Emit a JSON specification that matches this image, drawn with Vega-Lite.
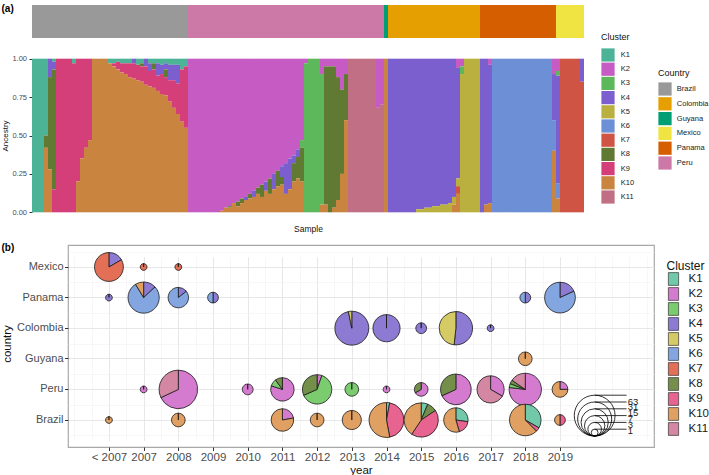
{
  "$schema": "https://vega.github.io/schema/vega-lite/v6.json",
  "padding": {"left": 0, "top": 3, "right": 0, "bottom": 0},
  "config": {
    "font": "Liberation Sans",
    "view": {"stroke": null},
    "axis": {"labelColor": "#4d4d4d", "titleColor": "#111111", "titleFontWeight": "normal", "domain": false, "grid": false, "tickColor": "#333333", "minExtent": 0},
    "legend": {"titleFontWeight": "normal", "labelColor": "#1a1a1a", "titleColor": "#111111", "padding": 0}
  },
  "datasets": {
    "clusters": [
      {"cluster": "K1", "k": 1}, {"cluster": "K2", "k": 2}, {"cluster": "K3", "k": 3}, {"cluster": "K4", "k": 4},
      {"cluster": "K5", "k": 5}, {"cluster": "K6", "k": 6}, {"cluster": "K7", "k": 7}, {"cluster": "K8", "k": 8},
      {"cluster": "K9", "k": 9}, {"cluster": "K10", "k": 10}, {"cluster": "K11", "k": 11}
    ],
    "sizes": [{"n": 1}, {"n": 3}, {"n": 7}, {"n": 15}, {"n": 31}, {"n": 63}],
    "anc": [
      {"s":0,"country":"Brazil","K1":1},
      {"s":1,"country":"Brazil","K1":1},
      {"s":2,"country":"Brazil","K1":1},
      {"s":3,"country":"Brazil","K1":0.5,"K8":0.08,"K10":0.42},
      {"s":4,"country":"Brazil","K4":0.12,"K8":0.6,"K10":0.28},
      {"s":5,"country":"Brazil","K1":0.02,"K4":0.05,"K8":0.78,"K9":0.15},
      {"s":6,"country":"Brazil","K9":1},
      {"s":7,"country":"Brazil","K9":1},
      {"s":8,"country":"Brazil","K9":1},
      {"s":9,"country":"Brazil","K9":1},
      {"s":10,"country":"Brazil","K1":0.03,"K9":0.97},
      {"s":11,"country":"Brazil","K9":0.8,"K10":0.2},
      {"s":12,"country":"Brazil","K9":0.65,"K10":0.35},
      {"s":13,"country":"Brazil","K9":0.58,"K10":0.42},
      {"s":14,"country":"Brazil","K9":0.53,"K10":0.47},
      {"s":15,"country":"Brazil","K10":1},
      {"s":16,"country":"Brazil","K10":1},
      {"s":17,"country":"Brazil","K10":1},
      {"s":18,"country":"Brazil","K10":1},
      {"s":19,"country":"Brazil","K1":0.03,"K10":0.97},
      {"s":20,"country":"Brazil","K1":0.03,"K9":0.02,"K10":0.95},
      {"s":21,"country":"Brazil","K1":0.02,"K9":0.05,"K10":0.93},
      {"s":22,"country":"Brazil","K1":0.03,"K9":0.06,"K10":0.91},
      {"s":23,"country":"Brazil","K1":0.03,"K9":0.07,"K10":0.9},
      {"s":24,"country":"Brazil","K1":0.03,"K9":0.09,"K10":0.88},
      {"s":25,"country":"Brazil","K4":0.03,"K9":0.1,"K10":0.87},
      {"s":26,"country":"Brazil","K1":0.04,"K9":0.1,"K10":0.86},
      {"s":27,"country":"Brazil","K1":0.03,"K8":0.02,"K9":0.1,"K10":0.85},
      {"s":28,"country":"Brazil","K4":0.05,"K9":0.12,"K10":0.83},
      {"s":29,"country":"Brazil","K1":0.03,"K4":0.05,"K9":0.1,"K10":0.82},
      {"s":30,"country":"Brazil","K1":0.03,"K8":0.04,"K9":0.12,"K10":0.81},
      {"s":31,"country":"Brazil","K1":0.03,"K4":0.08,"K9":0.1,"K10":0.79},
      {"s":32,"country":"Brazil","K1":0.04,"K4":0.06,"K9":0.13,"K10":0.77},
      {"s":33,"country":"Brazil","K1":0.03,"K4":0.04,"K8":0.05,"K9":0.12,"K10":0.76},
      {"s":34,"country":"Brazil","K1":0.04,"K4":0.1,"K9":0.14,"K10":0.72},
      {"s":35,"country":"Brazil","K1":0.04,"K4":0.1,"K9":0.18,"K10":0.68},
      {"s":36,"country":"Brazil","K1":0.04,"K4":0.12,"K9":0.2,"K10":0.64},
      {"s":37,"country":"Brazil","K1":0.07,"K9":0.34,"K10":0.59},
      {"s":38,"country":"Brazil","K1":0.05,"K9":0.4,"K10":0.55},
      {"s":39,"country":"Peru","K2":1},
      {"s":40,"country":"Peru","K2":1},
      {"s":41,"country":"Peru","K2":1},
      {"s":42,"country":"Peru","K2":1},
      {"s":43,"country":"Peru","K2":1},
      {"s":44,"country":"Peru","K2":1},
      {"s":45,"country":"Peru","K2":1},
      {"s":46,"country":"Peru","K2":1},
      {"s":47,"country":"Peru","K2":0.99,"K10":0.01},
      {"s":48,"country":"Peru","K2":0.97,"K10":0.03},
      {"s":49,"country":"Peru","K2":0.96,"K8":0.01,"K10":0.03},
      {"s":50,"country":"Peru","K2":0.94,"K10":0.06},
      {"s":51,"country":"Peru","K2":0.93,"K8":0.03,"K10":0.04},
      {"s":52,"country":"Peru","K2":0.91,"K8":0.03,"K10":0.06},
      {"s":53,"country":"Peru","K2":0.9,"K4":0.02,"K10":0.08},
      {"s":54,"country":"Peru","K2":0.88,"K8":0.03,"K10":0.09},
      {"s":55,"country":"Peru","K2":0.86,"K4":0.04,"K10":0.1},
      {"s":56,"country":"Peru","K2":0.84,"K8":0.04,"K10":0.12},
      {"s":57,"country":"Peru","K2":0.82,"K8":0.08,"K10":0.1},
      {"s":58,"country":"Peru","K2":0.8,"K4":0.06,"K10":0.14},
      {"s":59,"country":"Peru","K2":0.78,"K8":0.1,"K10":0.12},
      {"s":60,"country":"Peru","K2":0.75,"K4":0.1,"K10":0.15},
      {"s":61,"country":"Peru","K2":0.73,"K8":0.1,"K10":0.17},
      {"s":62,"country":"Peru","K2":0.7,"K4":0.07,"K8":0.05,"K10":0.18},
      {"s":63,"country":"Peru","K2":0.68,"K4":0.2,"K10":0.12},
      {"s":64,"country":"Peru","K2":0.65,"K4":0.2,"K10":0.15},
      {"s":65,"country":"Peru","K2":0.63,"K4":0.05,"K8":0.12,"K10":0.2},
      {"s":66,"country":"Peru","K2":0.59,"K4":0.05,"K8":0.14,"K10":0.22},
      {"s":67,"country":"Peru","K2":0.53,"K3":0.05,"K8":0.22,"K10":0.2},
      {"s":68,"country":"Peru","K2":0.03,"K3":0.97},
      {"s":69,"country":"Peru","K3":1},
      {"s":70,"country":"Peru","K3":1},
      {"s":71,"country":"Peru","K3":1},
      {"s":72,"country":"Peru","K2":0.1,"K3":0.85,"K10":0.05},
      {"s":73,"country":"Peru","K2":0.05,"K8":0.9,"K10":0.05},
      {"s":74,"country":"Peru","K2":0.05,"K8":0.95},
      {"s":75,"country":"Peru","K2":0.05,"K8":0.92,"K10":0.03},
      {"s":76,"country":"Peru","K2":0.12,"K8":0.8,"K10":0.08},
      {"s":77,"country":"Peru","K2":0.2,"K8":0.55,"K10":0.25},
      {"s":78,"country":"Peru","K2":0.1,"K8":0.3,"K10":0.6},
      {"s":79,"country":"Peru","K11":1},
      {"s":80,"country":"Peru","K11":1},
      {"s":81,"country":"Peru","K11":1},
      {"s":82,"country":"Peru","K11":1},
      {"s":83,"country":"Peru","K11":1},
      {"s":84,"country":"Peru","K11":1},
      {"s":85,"country":"Peru","K11":1},
      {"s":86,"country":"Peru","K2":0.32,"K11":0.68},
      {"s":87,"country":"Peru","K2":0.3,"K11":0.7},
      {"s":88,"country":"Guyana","K10":1},
      {"s":89,"country":"Colombia","K4":1},
      {"s":90,"country":"Colombia","K4":1},
      {"s":91,"country":"Colombia","K4":1},
      {"s":92,"country":"Colombia","K4":1},
      {"s":93,"country":"Colombia","K4":1},
      {"s":94,"country":"Colombia","K4":1},
      {"s":95,"country":"Colombia","K4":1},
      {"s":96,"country":"Colombia","K4":0.98,"K5":0.02},
      {"s":97,"country":"Colombia","K4":0.98,"K5":0.02},
      {"s":98,"country":"Colombia","K4":0.97,"K5":0.03},
      {"s":99,"country":"Colombia","K4":0.97,"K5":0.03},
      {"s":100,"country":"Colombia","K4":0.96,"K5":0.04},
      {"s":101,"country":"Colombia","K4":0.96,"K5":0.04},
      {"s":102,"country":"Colombia","K4":0.95,"K5":0.05},
      {"s":103,"country":"Colombia","K4":0.95,"K5":0.05},
      {"s":104,"country":"Colombia","K4":0.94,"K5":0.06},
      {"s":105,"country":"Colombia","K4":0.9,"K5":0.05,"K10":0.05},
      {"s":106,"country":"Colombia","K2":0.06,"K4":0.72,"K5":0.05,"K7":0.05,"K10":0.12},
      {"s":107,"country":"Colombia","K2":0.05,"K3":0.05,"K5":0.9},
      {"s":108,"country":"Colombia","K5":1},
      {"s":109,"country":"Colombia","K5":1},
      {"s":110,"country":"Colombia","K5":1},
      {"s":111,"country":"Colombia","K5":1},
      {"s":112,"country":"Panama","K4":1},
      {"s":113,"country":"Panama","K4":0.95,"K10":0.05},
      {"s":114,"country":"Panama","K2":0.04,"K4":0.9,"K10":0.06},
      {"s":115,"country":"Panama","K6":1},
      {"s":116,"country":"Panama","K6":1},
      {"s":117,"country":"Panama","K6":1},
      {"s":118,"country":"Panama","K6":1},
      {"s":119,"country":"Panama","K6":1},
      {"s":120,"country":"Panama","K6":1},
      {"s":121,"country":"Panama","K6":1},
      {"s":122,"country":"Panama","K6":1},
      {"s":123,"country":"Panama","K6":1},
      {"s":124,"country":"Panama","K6":1},
      {"s":125,"country":"Panama","K6":1},
      {"s":126,"country":"Panama","K6":1},
      {"s":127,"country":"Panama","K6":1},
      {"s":128,"country":"Panama","K6":1},
      {"s":129,"country":"Panama","K6":1},
      {"s":130,"country":"Panama","K2":0.1,"K4":0.3,"K6":0.2,"K10":0.4},
      {"s":131,"country":"Mexico","K2":0.08,"K3":0.03,"K4":0.7,"K6":0.1,"K10":0.09},
      {"s":132,"country":"Mexico","K7":1},
      {"s":133,"country":"Mexico","K7":1},
      {"s":134,"country":"Mexico","K7":1},
      {"s":135,"country":"Mexico","K7":1},
      {"s":136,"country":"Mexico","K7":1},
      {"s":137,"country":"Mexico","K4":0.15,"K7":0.85}
    ],
    "pies": [
      {"country":"Mexico","year":2006,"K4":3,"K7":15},
      {"country":"Mexico","year":2007,"K7":1},
      {"country":"Mexico","year":2008,"K7":1},
      {"country":"Panama","year":2006,"K4":1},
      {"country":"Panama","year":2007,"K4":3,"K6":18,"K10":2},
      {"country":"Panama","year":2008,"K4":1,"K6":6},
      {"country":"Panama","year":2009,"K4":1,"K6":1},
      {"country":"Panama","year":2018,"K4":1,"K6":1},
      {"country":"Panama","year":2019,"K4":4,"K6":18},
      {"country":"Colombia","year":2013,"K4":30,"K5":1},
      {"country":"Colombia","year":2014,"K4":15},
      {"country":"Colombia","year":2015,"K4":2},
      {"country":"Colombia","year":2016,"K4":15,"K5":14},
      {"country":"Colombia","year":2017,"K4":1},
      {"country":"Guyana","year":2018,"K10":3},
      {"country":"Peru","year":2007,"K2":1},
      {"country":"Peru","year":2008,"K2":34,"K11":16},
      {"country":"Peru","year":2010,"K2":2},
      {"country":"Peru","year":2011,"K2":8,"K3":1,"K8":1},
      {"country":"Peru","year":2012,"K2":1,"K3":12,"K8":6},
      {"country":"Peru","year":2013,"K3":3},
      {"country":"Peru","year":2014,"K2":1},
      {"country":"Peru","year":2015,"K2":2,"K8":1},
      {"country":"Peru","year":2016,"K2":15,"K8":7},
      {"country":"Peru","year":2017,"K2":5,"K11":10},
      {"country":"Peru","year":2018,"K2":20,"K3":1,"K8":1,"K11":4},
      {"country":"Peru","year":2019,"K2":1,"K10":3},
      {"country":"Brazil","year":2006,"K10":1},
      {"country":"Brazil","year":2008,"K10":3},
      {"country":"Brazil","year":2011,"K2":2,"K10":7},
      {"country":"Brazil","year":2012,"K10":3},
      {"country":"Brazil","year":2013,"K10":6},
      {"country":"Brazil","year":2014,"K1":1,"K9":15,"K10":18},
      {"country":"Brazil","year":2015,"K1":2,"K8":3,"K9":14,"K10":13},
      {"country":"Brazil","year":2016,"K1":3,"K9":2,"K10":6},
      {"country":"Brazil","year":2018,"K1":8,"K9":1,"K10":15},
      {"country":"Brazil","year":2019,"K9":1,"K10":1}
    ]
  },
  "spacing": 8,
  "resolve": {"scale": {"color": "independent"}},
  "vconcat": [
    {
      "spacing": 13,
      "bounds": "flush",
      "resolve": {"scale": {"color": "independent", "x": "independent"}},
      "vconcat": [
        {
          "width": 516,
          "height": 33,
          "data": {"name": "anc"},
          "mark": {"type": "bar"},
          "encoding": {
            "x": {"field": "s", "type": "ordinal", "scale": {"paddingInner": 0, "paddingOuter": 0, "range": [-36, 516]},
              "axis": {"orient": "top", "labels": false, "ticks": false, "domain": false, "title": "(a)", "titleX": -67, "titleY": -2, "titleAlign": "left", "titleBaseline": "top", "titleAngle": 0, "titleFontSize": 10, "titleFontWeight": "bold", "titleColor": "#000000"}},
            "color": {"field": "country", "type": "nominal",
              "scale": {"domain": ["Brazil", "Colombia", "Guyana", "Mexico", "Panama", "Peru"], "range": ["#999999", "#e69f00", "#009e73", "#f0e442", "#d55e00", "#cc79a7"]},
              "legend": {"orient": "none", "legendX": 590, "legendY": 64, "title": "Country", "titleFontSize": 9, "labelFontSize": 7.5, "symbolType": "square", "symbolSize": 175, "symbolStrokeWidth": 0, "rowPadding": 0.8, "titlePadding": 4, "labelOffset": 4.8}}
          }
        },
        {
          "width": 516,
          "height": 169,
          "data": {"name": "anc"},
          "transform": [
            {"fold": ["K1", "K2", "K3", "K4", "K5", "K6", "K7", "K8", "K9", "K10", "K11"], "as": ["cluster", "v"]},
            {"filter": "datum.v > 0"},
            {"lookup": "cluster", "from": {"data": {"name": "clusters"}, "key": "cluster", "fields": ["k"]}}
          ],
          "mark": {"type": "bar"},
          "encoding": {
            "x": {"field": "s", "type": "ordinal", "scale": {"paddingInner": 0, "paddingOuter": 0, "range": [-36, 516]},
              "axis": {"labels": false, "ticks": false, "domain": false, "title": "Sample", "titleFontSize": 8.5, "titlePadding": 4, "titleX": 240}},
            "y": {"field": "v", "type": "quantitative", "stack": "zero",
              "scale": {"domain": [-0.05, 1.05], "nice": false, "zero": false},
              "axis": {"offset": 36, "values": [0, 0.25, 0.5, 0.75, 1], "format": ".2f", "labelFontSize": 7.5, "tickSize": 3, "labelPadding": 2.5, "title": "Ancestry", "titleFontSize": 8, "titlePadding": 2}},
            "order": {"field": "k", "sort": "descending"},
            "color": {"field": "cluster", "type": "nominal",
              "scale": {"domain": ["K1", "K2", "K3", "K4", "K5", "K6", "K7", "K8", "K9", "K10", "K11"], "range": ["#4db397", "#c65bc3", "#5db85b", "#7b5fcf", "#b9b03f", "#6d8fd5", "#cf5443", "#617a33", "#d43f7a", "#c9853f", "#c06f85"]},
              "legend": {"orient": "none", "legendX": 533, "legendY": -18, "title": "Cluster", "titleFontSize": 9, "labelFontSize": 7.5, "symbolType": "square", "symbolSize": 175, "symbolStrokeWidth": 0, "rowPadding": 0.2, "titlePadding": 6, "labelOffset": 5.8}}
          }
        }
      ]
    },
    {
      "vconcat": [
        {
          "width": 586,
          "height": 202,
          "view": {"stroke": "#a8a8a8", "strokeWidth": 1.2},
          "resolve": {"scale": {"y": "independent"}, "axis": {"x": "independent", "y": "independent"}},
          "layer": [
            {
              "data": {"name": "pies"},
              "transform": [
                {"fold": ["K1", "K2", "K3", "K4", "K5", "K6", "K7", "K8", "K9", "K10", "K11"], "as": ["cluster", "cnt"]},
                {"filter": "datum.cnt > 0"},
                {"lookup": "cluster", "from": {"data": {"name": "clusters"}, "key": "cluster", "fields": ["k"]}},
                {"joinaggregate": [{"op": "sum", "field": "cnt", "as": "total"}], "groupby": ["country", "year"]},
                {"stack": "cnt", "groupby": ["country", "year"], "sort": [{"field": "k", "order": "ascending"}], "offset": "normalize", "as": ["t0", "t1"]}
              ],
              "mark": {"type": "arc", "stroke": "#1a1a1a", "strokeWidth": 0.8},
              "encoding": {
                "x": {"field": "year", "type": "quantitative", "stack": null, "scale": {"domain": [2004.82, 2021.71], "nice": false, "zero": false},
                  "axis": {"orient": "bottom",
                    "values": [2005, 2005.5, 2006, 2006.5, 2007, 2007.5, 2008, 2008.5, 2009, 2009.5, 2010, 2010.5, 2011, 2011.5, 2012, 2012.5, 2013, 2013.5, 2014, 2014.5, 2015, 2015.5, 2016, 2016.5, 2017, 2017.5, 2018, 2018.5, 2019, 2019.5, 2020, 2020.5, 2021, 2021.5],
                    "labelExpr": "datum.value == 2006 ? '< 2007' : ((datum.value >= 2007 && datum.value <= 2019 && datum.value % 1 == 0) ? '' + datum.value : '')",
                    "labelOverlap": false, "labelFlush": false, "labelFontSize": 11.5, "labelPadding": 0.5,
                    "grid": true,
                    "gridColor": {"condition": {"test": "datum.value >= 2006 && datum.value <= 2019 && datum.value % 1 == 0", "value": "#e4e4e4"}, "value": "#f1f1f1"},
                    "gridWidth": {"condition": {"test": "datum.value >= 2006 && datum.value <= 2019 && datum.value % 1 == 0", "value": 0.9}, "value": 0.6},
                    "tickOpacity": {"condition": {"test": "datum.value >= 2006 && datum.value <= 2019 && datum.value % 1 == 0", "value": 1}, "value": 0},
                    "tickSize": 3.5, "title": "year", "titleFontSize": 11.5, "titlePadding": 1.5}},
                "y": {"field": "country", "type": "nominal",
                  "scale": {"type": "band", "domain": ["Mexico", "Panama", "Colombia", "Guyana", "Peru", "Brazil"], "range": [6.7, 190.3], "paddingInner": 0, "paddingOuter": 0},
                  "axis": {"orient": "left", "grid": true, "gridColor": "#e4e4e4", "gridWidth": 0.9, "tickSize": 3.5, "labelFontSize": 11, "labelPadding": 1.5, "title": "country", "titleFontSize": 11.5, "titlePadding": 4}},
                "theta": {"field": "t0", "type": "quantitative", "scale": {"domain": [0, 1], "range": [0, 6.2829]}},
                "theta2": {"field": "t1"},
                "radius": {"field": "total", "type": "quantitative", "stack": null, "scale": {"type": "symlog", "domain": [0, 63], "range": [0, 20.4]}},
                "color": {"field": "cluster", "type": "nominal",
                  "scale": {"domain": ["K1", "K2", "K3", "K4", "K5", "K6", "K7", "K8", "K9", "K10", "K11"], "range": ["#72c9aa", "#d47bcf", "#7bcb6f", "#8d7bd3", "#d5cb66", "#84a6e0", "#e36f57", "#738f4a", "#e6648f", "#dfa062", "#d487a3"]},
                  "legend": {"orient": "none", "legendX": 598.5, "legendY": 16, "title": "Cluster", "titleFontSize": 12, "labelFontSize": 11.5, "symbolType": "M-0.8,-1H0.8V1H-0.8Z", "symbolSize": 164, "symbolStrokeColor": "#333333", "symbolStrokeWidth": 0.7, "rowPadding": -1.2, "titlePadding": -1, "labelOffset": 8}}
              }
            },
            {
              "data": {"name": "sizes"},
              "mark": {"type": "point", "opacity": 0},
              "encoding": {
                "x": {"datum": 2010, "type": "quantitative",
                  "axis": {"orient": "top", "labels": false, "ticks": false, "domain": false, "grid": false, "title": "(b)", "titleX": -67, "titleY": -2.5, "titleAlign": "left", "titleBaseline": "top", "titleAngle": 0, "titleFontSize": 10, "titleFontWeight": "bold", "titleColor": "#000000"}},
                "y": {"datum": "Peru", "type": "nominal",
                  "scale": {"type": "band", "domain": ["Mexico", "Panama", "Colombia", "Guyana", "Peru", "Brazil"], "range": [6.7, 190.3], "paddingInner": 0, "paddingOuter": 0},
                  "axis": {"orient": "left", "tickBand": "extent", "labels": false, "ticks": false, "domain": false, "title": null, "grid": true, "gridColor": "#f1f1f1", "gridWidth": 0.6}}
              }
            },
            {
              "data": {"name": "sizes"},
              "mark": {"type": "arc", "filled": false, "stroke": "#000000", "strokeWidth": 0.8, "theta": 0, "theta2": 6.2832},
              "encoding": {
                "x": {"datum": 2020, "type": "quantitative", "axis": null},
                "y": {"field": "n", "type": "quantitative", "stack": null, "scale": {"type": "symlog", "domain": [0, 63], "range": [191, 170.6]}, "axis": null},
                "radius": {"field": "n", "type": "quantitative", "stack": null, "scale": {"type": "symlog", "domain": [0, 63], "range": [0, 20.4]}}
              }
            },
            {
              "data": {"name": "sizes"},
              "mark": {"type": "rule", "stroke": "#000000", "strokeWidth": 0.8},
              "encoding": {
                "x": {"datum": 2020, "type": "quantitative", "axis": null},
                "x2": {"datum": 2020.92},
                "y": {"field": "n", "type": "quantitative", "scale": {"type": "symlog", "domain": [0, 63], "range": [191, 150.2]}, "axis": null}
              }
            },
            {
              "data": {"name": "sizes"},
              "mark": {"type": "text", "align": "left", "baseline": "middle", "fontSize": 9.5, "color": "#1a1a1a"},
              "encoding": {
                "x": {"datum": 2020.95, "type": "quantitative", "axis": null},
                "y": {"field": "n", "type": "ordinal", "scale": {"type": "point", "domain": [63, 31, 15, 7, 3, 1], "range": [156.5, 186], "padding": 0}, "axis": null},
                "text": {"field": "n", "type": "quantitative"}
              }
            }
          ]
        }
      ]
    }
  ]
}
